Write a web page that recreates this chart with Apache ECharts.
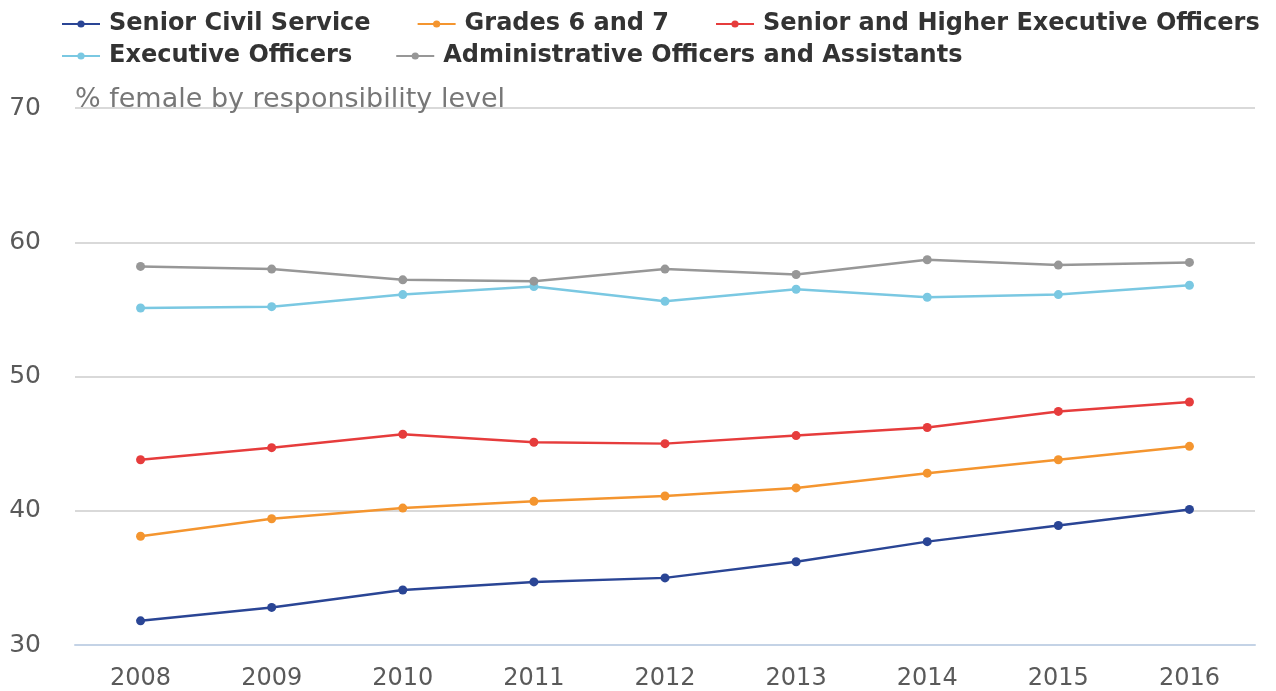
<!DOCTYPE html>
<html>
<head>
<meta charset="utf-8">
<script src="https://cdn.jsdelivr.net/npm/echarts@6/dist/echarts.min.js"></script>
<style>
  html, body { margin: 0; padding: 0; background: #fff; }
  #chart { width: 1276px; height: 691px; }
</style>
</head>
<body>
<div id="chart"></div>
<script>
const years = ['2008', '2009', '2010', '2011', '2012', '2013', '2014', '2015', '2016']

const seniorCivilService = [31.8, 32.8, 34.1, 34.7, 35.0, 36.2, 37.7, 38.9, 40.1]
const grades6and7 = [38.1, 39.4, 40.2, 40.7, 41.1, 41.7, 42.8, 43.8, 44.8]
const seniorHigherExec = [43.8, 44.7, 45.7, 45.1, 45.0, 45.6, 46.2, 47.4, 48.1]
const executiveOfficers = [55.1, 55.2, 56.1, 56.7, 55.6, 56.5, 55.9, 56.1, 56.8]
const adminOfficers = [58.2, 58.0, 57.2, 57.1, 58.0, 57.6, 58.7, 58.3, 58.5]

const seriesDefs = [
  { name: 'Senior Civil Service', data: seniorCivilService, color: '#2a4595' },
  { name: 'Grades 6 and 7', data: grades6and7, color: '#f4952f' },
  { name: 'Senior and Higher Executive Officers', data: seniorHigherExec, color: '#e63c3c' },
  { name: 'Executive Officers', data: executiveOfficers, color: '#7ac8e2' },
  { name: 'Administrative Officers and Assistants', data: adminOfficers, color: '#979797' }
]

// legend rows, split by hand so the row spacing stays tight
const legendRows = [
  { names: seriesDefs.slice(0, 3).map(s => s.name), gap: 46 },
  { names: seriesDefs.slice(3).map(s => s.name), gap: 43 }
]

const legendBase = {
  left: 56,
  itemWidth: 38,
  itemHeight: 9,
  textStyle: {
    fontSize: 24,
    fontWeight: 'bold',
    color: '#333',
    fontFamily: 'DejaVu Sans',
    padding: [0, 0, 0, 4]
  }
}

const chart = echarts.init(document.getElementById('chart'))

chart.setOption({
  animation: false,
  textStyle: { fontFamily: 'DejaVu Sans' },
  title: {
    text: '% female by responsibility level',
    left: 70,
    top: 81,
    textStyle: { fontSize: 27, fontWeight: 'normal', color: '#777', fontFamily: 'DejaVu Sans' }
  },
  legend: legendRows.map((row, i) => ({
    ...legendBase,
    top: 7 + i * 32,
    itemGap: row.gap,
    data: row.names
  })),
  grid: { left: 75, right: 21, top: 108, bottom: 46, containLabel: false },
  xAxis: {
    type: 'category',
    data: years,
    axisLine: { lineStyle: { color: '#c4d3e6', width: 2 } },
    axisTick: { alignWithLabel: true, length: 12, lineStyle: { color: '#c4d3e6', width: 2 } },
    axisLabel: { fontSize: 24, color: '#5a5a5a', margin: 22 }
  },
  yAxis: {
    type: 'value',
    min: 30,
    max: 70,
    interval: 10,
    axisLine: { show: false },
    axisTick: { show: false },
    axisLabel: { fontSize: 25, color: '#5a5a5a', margin: 34 },
    splitLine: { lineStyle: { color: '#d9d9d9', width: 2 } }
  },
  series: seriesDefs.map(s => ({
    name: s.name,
    type: 'line',
    data: s.data,
    symbol: 'circle',
    symbolSize: 9,
    color: s.color,
    lineStyle: { width: 2.5 }
  }))
})
</script>
</body>
</html>
